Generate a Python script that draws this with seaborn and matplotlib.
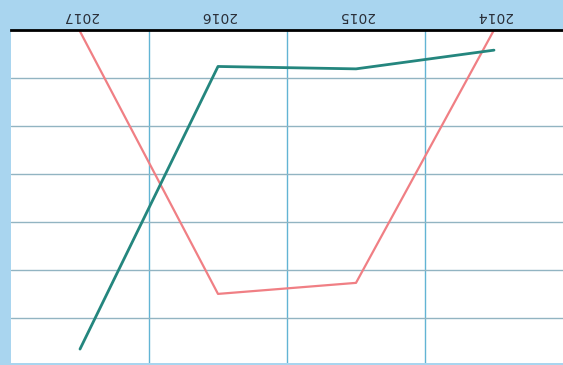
import matplotlib
matplotlib.use("Agg")
import matplotlib.pyplot as plt
import seaborn as sns
import pandas as pd

years = ["2014", "2015", "2016", "2017"]
pink_values = [0.0, 52.7, 55.0, 0.3]
teal_values = [4.2, 8.1, 7.6, 66.5]

df = pd.DataFrame({
    "year": years * 2,
    "value": pink_values + teal_values,
    "series": ["A"] * len(years) + ["B"] * len(years),
})

sns.set_theme(style="white")
fig = plt.figure(figsize=(5.63, 3.65), dpi=100)
fig.patch.set_facecolor("#a9d5ef")

W, H = 563, 365
ax = fig.add_axes([11 / W, 2 / H, 1 - 11 / W, (363 - 30) / H])
ax.set_facecolor("white")

sns.lineplot(
    data=df, x="year", y="value", hue="series",
    palette={"A": "#f07f84", "B": "#24867e"},
    ax=ax, legend=False, sort=False,
)
for line, lw in zip(ax.lines, [1.6, 2.0]):
    line.set_linewidth(lw)

# the chart is shown turned half a revolution: both axes run backwards
ax.set_xlim(len(years) - 0.5, -0.5)
ax.set_ylim(69.4, 0)

ax.set_yticks([10, 20, 30, 40, 50, 60])
ax.set_yticklabels([])
ax.yaxis.grid(True, color="#92b4c2", linewidth=1.0)
ax.set_xticks([0.5, 1.5, 2.5], minor=True)
ax.xaxis.grid(True, which="minor", color="#62b4d4", linewidth=1.0)
ax.xaxis.grid(False, which="major")
ax.set_axisbelow(True)

ax.xaxis.tick_top()
ax.set_xticks(range(len(years)))
ax.set_xticklabels(years, rotation=180, fontsize=10, color="#2a2f38")
ax.tick_params(axis="x", which="both", length=0, pad=5)
ax.tick_params(axis="y", length=0)
ax.set_xlabel("")
ax.set_ylabel("")

for side in ["left", "right", "bottom"]:
    ax.spines[side].set_visible(False)
ax.spines["top"].set_color("black")
ax.spines["top"].set_linewidth(2)

fig.savefig("out.png", dpi=100, facecolor=fig.get_facecolor())
